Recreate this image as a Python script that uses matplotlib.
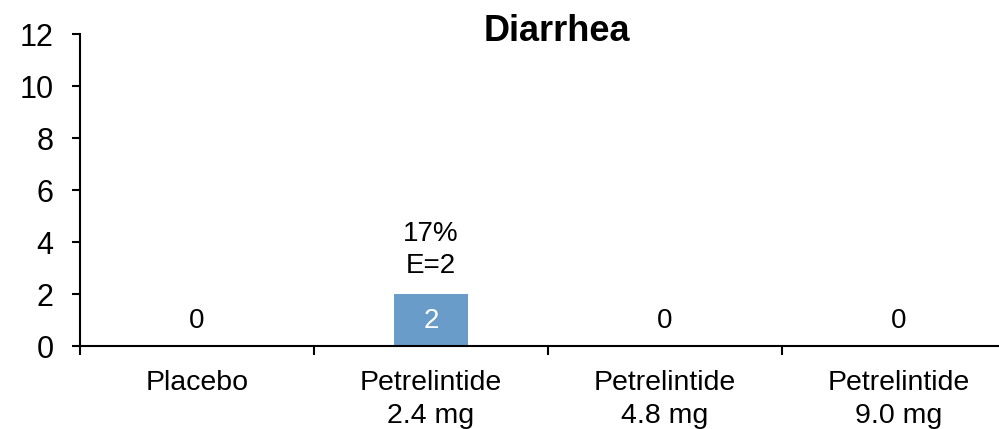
import matplotlib
matplotlib.use('Agg')
import matplotlib.pyplot as plt
import numpy as np

plt.rcParams['font.family'] = ['Liberation Sans', 'DejaVu Sans']

# Diarrhea adverse events per treatment arm
groups = ['Placebo', 'Petrelintide\n2.4 mg', 'Petrelintide\n4.8 mg', 'Petrelintide\n9.0 mg']
patients = [0, 2, 0, 0]
percent = ['', '17%', '', '']
events = [0, 2, 0, 0]

bar_color = '#6a9cc9'

fig = plt.figure(figsize=(9.99, 4.29), dpi=100)
ax = fig.add_axes([80 / 999, 83 / 429, 936 / 999, 312 / 429])

x = np.arange(len(groups))
ax.bar(x, patients, width=0.316, color=bar_color, zorder=2)

for xi, n, pct, ev in zip(x, patients, percent, events):
    ax.text(xi, 0.98, str(n), ha='center', va='center', fontsize=20,
            color='white' if n > 0 else 'black')
    if n > 0:
        ax.text(xi, n + 1.7, f'{pct}\nE={ev}', ha='center', va='center',
                fontsize=20, linespacing=1.32)

ax.set_xlim(-0.5, len(groups) - 0.5)
ax.set_ylim(0, 12)
ax.set_yticks(range(0, 13, 2))
ax.tick_params(axis='y', labelsize=22, length=6, width=1.5, direction='out', pad=13)

# category labels centered, ticks on category boundaries
ax.set_xticks(x)
ax.set_xticklabels(groups, fontsize=20.5, linespacing=1.34)
ax.tick_params(axis='x', which='major', length=0, pad=17.5)
ax.set_xticks(np.arange(-0.5, len(groups), 1), minor=True)
ax.tick_params(axis='x', which='minor', length=6.5, width=1.5, direction='out')

for side in ['top', 'right']:
    ax.spines[side].set_visible(False)
for side in ['left', 'bottom']:
    ax.spines[side].set_linewidth(1.5)

fig.text(557 / 999, (429 - 41) / 429, 'Diarrhea', fontsize=26, fontweight='bold',
         ha='center', va='baseline')

fig.savefig('out.png', dpi=100)
